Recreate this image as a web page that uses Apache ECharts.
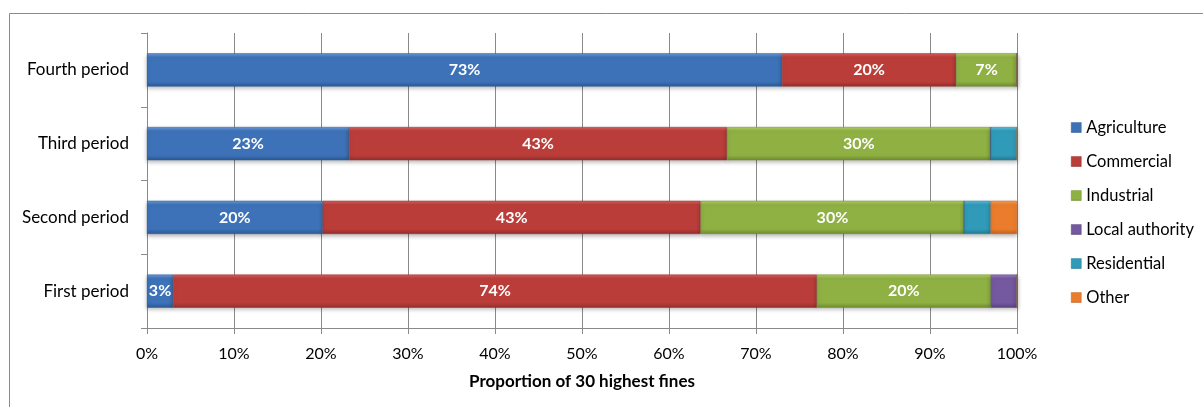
<!DOCTYPE html>
<html>
<head>
<meta charset="utf-8">
<title>Proportion of 30 highest fines by sector</title>
<script src="https://cdn.jsdelivr.net/npm/echarts@6/dist/echarts.min.js"></script>
<style>
  html, body { margin: 0; padding: 0; background: #fff; }
  #chart { width: 1203px; height: 407px; }
</style>
</head>
<body>
<div id="chart"></div>
<script>
// Periods, bottom to top
var categories = ['First period', 'Second period', 'Third period', 'Fourth period'];

// Share of the 30 highest fines per sector, in percent
var agriculture    = [3, 20, 23, 73];
var commercial     = [74, 43, 43, 20];
var industrial     = [20, 30, 30, 7];
var localAuthority = [3, 0, 0, 0];
var residential    = [0, 3, 3, 0];
var other          = [0, 3, 0, 0];

var sectorNames = ['Agriculture', 'Commercial', 'Industrial', 'Local authority', 'Residential', 'Other'];
var sectorValues = [agriculture, commercial, industrial, localAuthority, residential, other];

// [top, middle, bottom] shades for each sector's bevelled bar
var shades = [
  ['#6b9bd8', '#3d72b8', '#2c5a96'],
  ['#d9605d', '#bb3d3a', '#952f2d'],
  ['#b2d165', '#8fb043', '#6f8d2f'],
  ['#9a7fc0', '#7458a0', '#5a4380'],
  ['#5cc0dc', '#2f9bb9', '#237a93'],
  ['#fba25a', '#ea7c2c', '#c2621f']
];

var FONT = 'Lato, "Open Sans", sans-serif';

// 100% stacked: each row is scaled to its own total
var rowTotals = categories.map(function (_, i) {
  return sectorValues.reduce(function (s, arr) { return s + arr[i]; }, 0);
});

function gradient(c) {
  return new echarts.graphic.LinearGradient(0, 0, 0, 1, [
    { offset: 0, color: c[0] },
    { offset: 0.12, color: c[1] },
    { offset: 0.85, color: c[1] },
    { offset: 1, color: c[2] }
  ]);
}

var series = sectorNames.map(function (name, s) {
  return {
    name: name,
    type: 'bar',
    stack: 'total',
    barWidth: '45%',
    data: sectorValues[s].map(function (v, i) {
      return { value: v / rowTotals[i] * 100, raw: v };
    }),
    itemStyle: {
      color: gradient(shades[s]),
      borderColor: shades[s][2],
      borderWidth: 0.5,
      shadowColor: 'rgba(0,0,0,0.28)',
      shadowBlur: 4,
      shadowOffsetY: 2
    },
    label: {
      show: s < 3,
      position: 'inside',
      color: '#ffffff',
      fontFamily: FONT,
      fontWeight: 'bold',
      fontSize: 16,
      formatter: function (p) { return p.data.raw > 0 ? p.data.raw + '%' : ''; }
    },
    emphasis: { disabled: true }
  };
});

var chart = echarts.init(document.getElementById('chart'), null, { renderer: 'canvas' });
chart.setOption({
  animation: false,
  backgroundColor: '#ffffff',
  textStyle: { fontFamily: FONT, color: '#000' },
  graphic: [{
    type: 'rect',
    shape: { x: 9.5, y: 13.5, width: 1300, height: 500 },
    style: { fill: 'none', stroke: '#8a8a8a', lineWidth: 1 },
    silent: true,
    z: -10
  }],
  grid: { left: 147, right: 186, top: 33, bottom: 79, containLabel: false },
  legend: {
    orient: 'vertical',
    left: 1066,
    top: 114,
    itemWidth: 10,
    itemHeight: 10,
    itemGap: 17,
    icon: 'rect',
    textStyle: { fontSize: 16.5, color: '#000', fontFamily: FONT },
    data: sectorNames.map(function (n, s) {
      return { name: n, itemStyle: { color: gradient(shades[s]), borderColor: shades[s][2], borderWidth: 0.5 } };
    })
  },
  xAxis: {
    type: 'value',
    min: 0,
    max: 100,
    interval: 10,
    name: 'Proportion of 30 highest fines',
    nameLocation: 'middle',
    nameGap: 45,
    nameTextStyle: { fontWeight: 'bold', fontSize: 17, color: '#000' },
    axisLine: { show: true, lineStyle: { color: '#8a8a8a', width: 1 } },
    axisTick: { show: true, length: 6, lineStyle: { color: '#8a8a8a' } },
    axisLabel: { formatter: '{value}%', fontSize: 16, color: '#000', margin: 18 },
    splitLine: { show: true, lineStyle: { color: '#8a8a8a', width: 1 } }
  },
  yAxis: {
    type: 'category',
    data: categories,
    axisLine: { show: true, lineStyle: { color: '#8a8a8a', width: 1 } },
    axisTick: { show: true, length: 6, alignWithLabel: false, lineStyle: { color: '#8a8a8a' } },
    axisLabel: { fontSize: 17, color: '#000', margin: 18 },
    splitLine: { show: false }
  },
  series: series
});
</script>
</body>
</html>
